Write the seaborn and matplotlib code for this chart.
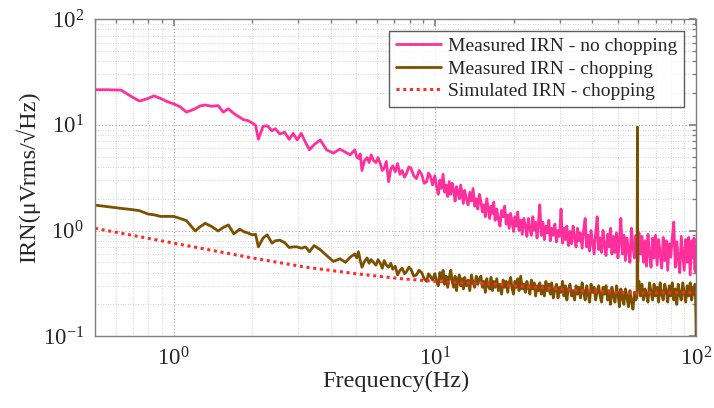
import numpy as np
import pandas as pd
import seaborn as sns
import matplotlib
matplotlib.use("Agg")
import matplotlib.pyplot as plt
from matplotlib.ticker import LogLocator, NullFormatter

# frequency points (Hz) of the measured traces, low band
freq_lo = [0.5, 0.56, 0.63, 0.69, 0.74, 0.80, 0.84, 0.89, 0.95, 1.0,
           1.06, 1.12, 1.21, 1.26, 1.32, 1.40, 1.48, 1.55, 1.62, 1.70,
           1.79, 1.85, 1.92, 2.0, 2.06, 2.11, 2.2, 2.28, 2.38, 2.45,
           2.55, 2.66, 2.77, 2.87, 2.97, 3.08, 3.2, 3.31, 3.45, 3.64,
           3.85, 4.09, 4.33, 4.55, 4.74, 4.94, 5.02, 5.1, 5.18, 5.26,
           5.38, 5.5, 5.6, 5.7, 5.82, 5.95, 6.06, 6.18, 6.29, 6.4,
           6.52, 6.65, 6.78, 6.9, 7.05, 7.2, 7.35, 7.5, 7.65, 7.8,
           7.95, 8.1, 8.3, 8.5, 8.7, 8.9, 9.1, 9.3, 9.45, 9.6,
           9.8]
# high band (noisy part)
freq_hi = [10.0, 10.15, 10.3, 10.45, 10.6, 10.75, 10.9, 11.05, 11.2, 11.35,
           11.5, 11.65, 11.8, 11.95, 12.1, 12.25, 12.4, 12.55, 12.7, 12.85,
           13.0, 13.2, 13.4, 13.6, 13.8, 14.0, 14.2, 14.4, 14.6, 14.8,
           15.0, 15.2, 15.4, 15.6, 15.8, 16.0, 16.2, 16.4, 16.6, 16.8,
           17.0, 17.25, 17.5, 17.75, 18.0, 18.25, 18.5, 18.75, 19.0, 19.25,
           19.5, 19.75, 20.0, 20.25, 20.5, 20.75, 21.0, 21.3, 21.6, 21.9,
           22.2, 22.5, 22.8, 23.1, 23.4, 23.7, 24.0, 24.3, 24.6, 24.9,
           25.2, 25.55, 25.9, 26.25, 26.6, 26.95, 27.3, 27.65, 28.0, 28.4,
           28.8, 29.2, 29.6, 30.0, 30.4, 30.8, 31.2, 31.6, 32.0, 32.45,
           32.9, 33.35, 33.8, 34.25, 34.7, 35.15, 35.6, 36.1, 36.6, 37.1,
           37.6, 38.1, 38.6, 39.1, 39.6, 40.15, 40.7, 41.25, 41.8, 42.35,
           42.9, 43.45, 44.0, 44.6, 45.2, 45.8, 46.4, 47.0, 47.6, 48.25,
           48.9, 49.55, 50.2, 50.85, 51.5, 52.2, 52.9, 53.6, 54.3, 55.05,
           55.8, 56.55, 57.3, 58.05, 58.8, 59.4, 59.6, 59.8, 60.4, 61.2,
           62.0, 62.85, 63.7, 64.55, 65.4, 66.3, 67.2, 68.1, 69.0, 69.95,
           70.9, 71.85, 72.8, 73.8, 74.8, 75.8, 76.8, 77.85, 78.9, 79.95,
           81.0, 82.1, 83.2, 84.3, 85.4, 86.55, 87.7, 88.85, 90.0, 91.2,
           92.4, 93.65, 94.9, 96.15, 97.4, 98.2, 99.0, 99.5, 99.8, 100.0]

# measured IRN without chopping (uVrms/sqrt(Hz))
irn_nochop_lo = [21.5, 21.5, 21.3, 18.5, 16.8, 17.8, 18.8, 17.8, 16.5, 15.8,
                 14.8, 13.2, 14.2, 15.1, 15.4, 15.0, 15.2, 13.2, 14.2, 12.8,
                 11.8, 11.2, 11.0, 10.4, 9.9, 7.3, 9.7, 9.8, 8.8, 9.2,
                 8.2, 8.5, 7.3, 8.3, 7.2, 8.3, 6.8, 5.8, 6.5, 7.2,
                 5.8, 5.4, 5.9, 5.5, 5.2, 5.8, 5.0, 4.8, 5.3, 3.7,
                 4.6, 4.9, 4.4, 5.2, 4.6, 4.4, 4.9, 4.3, 3.7, 3.9,
                 4.5, 2.9, 3.8, 4.1, 3.6, 4.3, 3.4, 3.7, 3.2, 3.5,
                 4.0, 3.9, 3.3, 3.1, 3.7, 3.4, 2.8, 2.9, 3.5, 3.3,
                 2.7]
irn_nochop_hi = [3.3, 2.6, 2.2, 3.0, 2.5, 3.4, 2.3, 2.7, 2.1, 2.9,
                 2.2, 2.8, 2.4, 1.9, 2.6, 2.3, 2.0, 2.7, 2.2, 1.8,
                 2.4, 2.0, 1.75, 2.3, 1.9, 2.5, 1.7, 2.0, 1.6, 2.2,
                 1.9, 1.5, 1.75, 1.35, 2.0, 1.6, 1.3, 1.7, 1.45, 1.85,
                 1.25, 1.6, 1.3, 1.1, 1.55, 1.35, 1.7, 1.15, 1.4, 1.05,
                 1.45, 1.2, 0.98, 1.35, 1.1, 1.5, 1.0, 1.25, 0.92, 1.3,
                 1.1, 0.88, 1.3, 1.05, 0.9, 1.35, 1.0, 1.2, 0.85, 1.15,
                 1.75, 0.9, 1.2, 0.82, 1.1, 0.95, 1.25, 0.8, 1.05, 0.9,
                 1.15, 0.78, 1.0, 0.88, 1.6, 0.76, 1.05, 0.82, 1.1, 0.72,
                 0.98, 0.75, 1.1, 0.85, 0.7, 1.05, 0.8, 0.95, 0.68, 1.0,
                 1.3, 0.7, 0.9, 0.64, 1.0, 0.78, 0.6, 0.95, 1.35, 0.66,
                 0.85, 0.62, 1.0, 0.72, 0.58, 0.92, 0.7, 1.05, 0.6, 0.88,
                 0.62, 0.95, 0.55, 0.8, 1.3, 0.6, 0.9, 0.52, 0.85, 0.66,
                 0.5, 1.05, 0.7, 0.55, 0.9, 0.62, 0.82, 0.5, 0.95, 0.6,
                 0.88, 0.5, 0.8, 0.46, 0.92, 0.6, 0.45, 0.85, 0.55, 0.9,
                 0.47, 0.82, 0.6, 0.44, 0.86, 0.52, 0.8, 0.42, 0.75, 0.56,
                 0.85, 1.2, 0.45, 0.78, 0.55, 0.4, 0.88, 0.6, 0.42, 0.82,
                 0.5, 0.86, 0.38, 0.8, 0.55, 0.85, 0.42, 0.7, 0.4, 0.55]

# measured IRN with chopping
irn_chop_lo = [1.74, 1.68, 1.62, 1.58, 1.54, 1.43, 1.41, 1.36, 1.36, 1.36,
               1.30, 1.24, 0.99, 1.08, 1.17, 1.09, 0.99, 1.07, 1.13, 0.93,
               1.03, 0.98, 0.95, 0.91, 0.92, 0.70, 0.85, 0.91, 0.76, 0.80,
               0.81, 0.77, 0.69, 0.70, 0.70, 0.68, 0.70, 0.63, 0.72, 0.66,
               0.58, 0.51, 0.54, 0.50, 0.56, 0.60, 0.55, 0.63, 0.52, 0.45,
               0.51, 0.55, 0.49, 0.53, 0.50, 0.47, 0.53, 0.49, 0.44, 0.52,
               0.47, 0.45, 0.49, 0.43, 0.46, 0.38, 0.42, 0.44, 0.39, 0.41,
               0.45, 0.43, 0.37, 0.38, 0.42, 0.40, 0.35, 0.33, 0.39, 0.37,
               0.34]
irn_chop_hi = [0.39, 0.33, 0.30, 0.40, 0.35, 0.42, 0.31, 0.37, 0.29, 0.36,
               0.42, 0.33, 0.29, 0.37, 0.27, 0.34, 0.38, 0.30, 0.35, 0.28,
               0.36, 0.30, 0.34, 0.27, 0.38, 0.32, 0.29, 0.37, 0.31, 0.35,
               0.37, 0.29, 0.33, 0.26, 0.35, 0.30, 0.28, 0.36, 0.27, 0.33,
               0.29, 0.35, 0.27, 0.31, 0.25, 0.34, 0.29, 0.33, 0.26, 0.32,
               0.36, 0.28, 0.25, 0.33, 0.29, 0.35, 0.27, 0.37, 0.28, 0.31,
               0.26, 0.33, 0.29, 0.25, 0.34, 0.28, 0.32, 0.24, 0.30, 0.27,
               0.32, 0.25, 0.30, 0.24, 0.33, 0.27, 0.31, 0.25, 0.32, 0.23,
               0.28, 0.31, 0.23, 0.29, 0.26, 0.33, 0.24, 0.30, 0.22, 0.28,
               0.31, 0.24, 0.27, 0.22, 0.30, 0.25, 0.29, 0.23, 0.32, 0.26,
               0.22, 0.30, 0.25, 0.21, 0.31, 0.26, 0.29, 0.22, 0.27, 0.30,
               0.24, 0.21, 0.29, 0.25, 0.30, 0.22, 0.27, 0.20, 0.29, 0.24,
               0.21, 0.30, 0.25, 0.19, 0.28, 0.23, 0.20, 0.28, 0.24, 0.19,
               0.27, 0.21, 0.18, 0.26, 0.22, 0.24, 9.5, 0.30, 0.33, 0.24,
               0.31, 0.22, 0.28, 0.25, 0.21, 0.32, 0.26, 0.22, 0.31, 0.24,
               0.29, 0.21, 0.32, 0.25, 0.22, 0.31, 0.27, 0.21, 0.30, 0.24,
               0.32, 0.22, 0.28, 0.20, 0.31, 0.25, 0.22, 0.32, 0.26, 0.21,
               0.30, 0.24, 0.32, 0.22, 0.29, 0.25, 0.31, 0.22, 0.15, 0.09]

# simulated IRN with chopping (smooth)
freq_sim = [0.5, 1.0, 2.0, 3.2, 5.0, 7.4, 10.0, 17.0, 36.0, 58.0, 100.0]
irn_sim = [1.05, 0.76, 0.55, 0.45, 0.39, 0.35, 0.33, 0.31, 0.27, 0.256, 0.26]

labels = ["Measured IRN - no chopping", "Measured IRN - chopping",
          "Simulated IRN - chopping"]
colors = ["#ff2f9c", "#7d5000", "#ff2b2b"]

if __name__ == "__main__":
  sns.set_theme()
  sns.set_style("white")
  plt.rcParams['font.family'] = ["Liberation Serif", "DejaVu Serif"]
  plt.rcParams['mathtext.fontset'] = 'stix'
  plt.rcParams['axes.unicode_minus'] = False

  freq = freq_lo + freq_hi
  meas_df = pd.DataFrame({
    "freq": freq + freq,
    "irn": irn_nochop_lo + irn_nochop_hi + irn_chop_lo + irn_chop_hi,
    "series": [labels[0]] * len(freq) + [labels[1]] * len(freq),
  })
  sim_df = pd.DataFrame({"freq": freq_sim, "irn": irn_sim})

  fig = plt.figure(figsize=(7.14, 4.08), dpi=100)
  ax = fig.add_axes([0.133, 0.176, 0.842, 0.777])

  sns.lineplot(data=meas_df, x="freq", y="irn", hue="series",
               palette=colors[:2], estimator=None, sort=False,
               linewidth=2.0, ax=ax)
  sns.lineplot(data=sim_df, x="freq", y="irn", color=colors[2],
               linestyle=(0, (1, 1.2)), linewidth=2.2, label=labels[2], ax=ax)

  ax.set_xscale("log")
  ax.set_yscale("log")
  ax.set_xlim(0.5, 100)
  ax.set_ylim(0.1, 100)

  ax.xaxis.set_minor_locator(LogLocator(base=10, subs=np.arange(2, 10)))
  ax.yaxis.set_minor_locator(LogLocator(base=10, subs=np.arange(2, 10)))
  ax.xaxis.set_minor_formatter(NullFormatter())
  ax.yaxis.set_minor_formatter(NullFormatter())

  ax.grid(True, which="major", linestyle=(0, (1, 2)), color="#a0a0a0", linewidth=0.8)
  ax.grid(True, which="minor", linestyle=(0, (1, 2)), color="#c4c4c4", linewidth=0.6)
  ax.set_axisbelow(True)

  for s in ax.spines.values():
    s.set_color("#808080")
    s.set_linewidth(1.0)
  ax.tick_params(which="both", direction="in", top=True, right=True,
                 color="#808080")
  ax.tick_params(which="major", length=5, labelsize=16.5, pad=8)
  ax.tick_params(which="minor", length=3)

  ax.set_xlabel("Frequency(Hz)", fontsize=17.5, labelpad=0)
  ax.set_ylabel("IRN(\u03bcVrms/\u221aHz)", fontsize=17.5, labelpad=2)

  leg = ax.legend(loc="upper right", fontsize=14, frameon=True, fancybox=False,
                  edgecolor="#333333", borderpad=0.35, labelspacing=0.25,
                  handlelength=2.3, handletextpad=0.4, borderaxespad=0.6)
  leg.get_frame().set_linewidth(1.0)

  fig.savefig("out.png", dpi=100)
